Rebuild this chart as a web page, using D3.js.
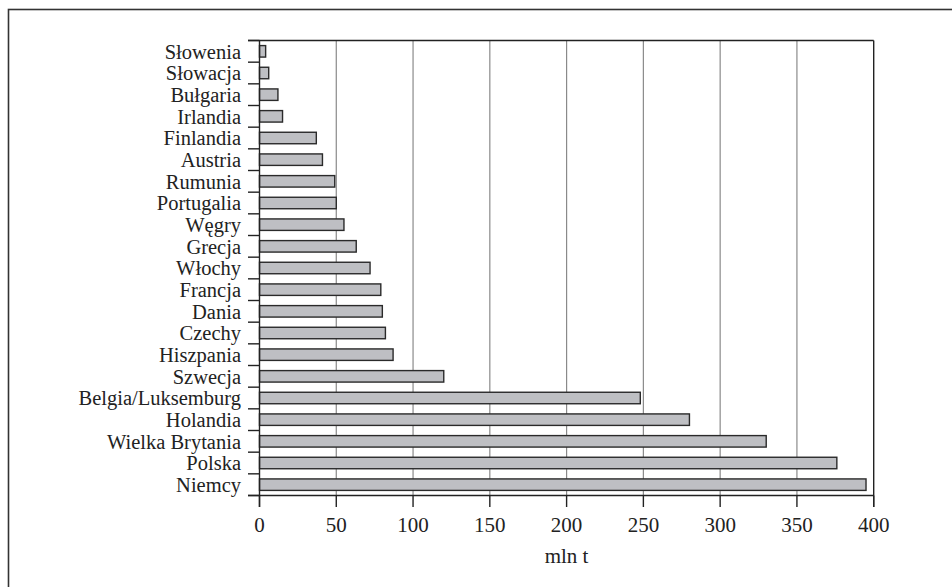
<!DOCTYPE html>
<html><head><meta charset="utf-8">
<script src="https://cdn.jsdelivr.net/npm/d3@7"></script>
<style>body{margin:0;background:#fff}svg{display:block}</style>
</head><body>
<script>
const categories = ["Słowenia","Słowacja","Bułgaria","Irlandia","Finlandia","Austria","Rumunia","Portugalia","Węgry","Grecja","Włochy","Francja","Dania","Czechy","Hiszpania","Szwecja","Belgia/Luksemburg","Holandia","Wielka Brytania","Polska","Niemcy"];
const values = [4,6,12,15,37,41,49,50,55,63,72,79,80,82,87,120,248,280,330,376,395];
const xTicks = [0,50,100,150,200,250,300,350,400];
const xTitle = "mln t";

const W=952,H=587;
const svg=d3.select("body").append("svg").attr("width",W).attr("height",H);
const font="'Liberation Serif','Times New Roman',serif";
svg.append("rect").attr("x",8.5).attr("y",9.5).attr("width",960).attr("height",600)
  .attr("fill","none").attr("stroke","#333").attr("stroke-width",1.6);

const L=259.5,R=873.7,T=40.5,B=495.5;
const x=d3.scaleLinear().domain([0,400]).range([L,R]);
const y=d3.scaleBand().domain(categories).range([T,B]).paddingInner(0.47).paddingOuter(0.235);
const yb=d3.scaleBand().domain(categories).range([T,B]);

// gridlines
svg.append("g").selectAll("line").data(xTicks.filter(t=>t>0&&t<400)).join("line")
  .attr("x1",d=>x(d)).attr("x2",d=>x(d)).attr("y1",T).attr("y2",B)
  .attr("stroke","#8a8a8a").attr("stroke-width",1.2);

// bars
svg.append("g").selectAll("rect").data(values).join("rect")
  .attr("x",x(0)).attr("y",(d,i)=>y(categories[i]))
  .attr("width",d=>x(d)-x(0)).attr("height",y.bandwidth())
  .attr("fill","#bebfc3").attr("stroke","#2a2a2a").attr("stroke-width",1.4);

const g=svg.append("g").attr("stroke","#222").attr("stroke-width",1.4);
g.append("line").attr("x1",248).attr("x2",R).attr("y1",T).attr("y2",T);
g.append("line").attr("x1",248).attr("x2",R).attr("y1",B).attr("y2",B);
g.append("line").attr("x1",L).attr("x2",L).attr("y1",T).attr("y2",507);
g.append("line").attr("x1",R).attr("x2",R).attr("y1",T).attr("y2",507);
const bounds=categories.map(c=>yb(c)).concat([B]);
g.selectAll(".lt").data(bounds).join("line").attr("x1",248).attr("x2",L).attr("y1",d=>d).attr("y2",d=>d);
g.selectAll(".bt").data(xTicks).join("line").attr("x1",d=>x(d)).attr("x2",d=>x(d)).attr("y1",B).attr("y2",507);

svg.append("g").selectAll("text").data(categories).join("text")
  .attr("x",241).attr("y",d=>yb(d)+yb.bandwidth()/2).attr("dy","0.35em")
  .attr("text-anchor","end").attr("font-family",font).attr("font-size",20.5).attr("fill","#222").text(d=>d);
svg.append("g").selectAll("text").data(xTicks).join("text")
  .attr("x",d=>x(d)).attr("y",525).attr("dy","0.35em").attr("text-anchor","middle")
  .attr("font-family",font).attr("font-size",21).attr("fill","#222").text(d=>d);
svg.append("text").attr("x",(L+R)/2).attr("y",556).attr("dy","0.35em").attr("text-anchor","middle")
  .attr("font-family",font).attr("font-size",21).attr("fill","#222").text(xTitle);
</script>
</body></html>
